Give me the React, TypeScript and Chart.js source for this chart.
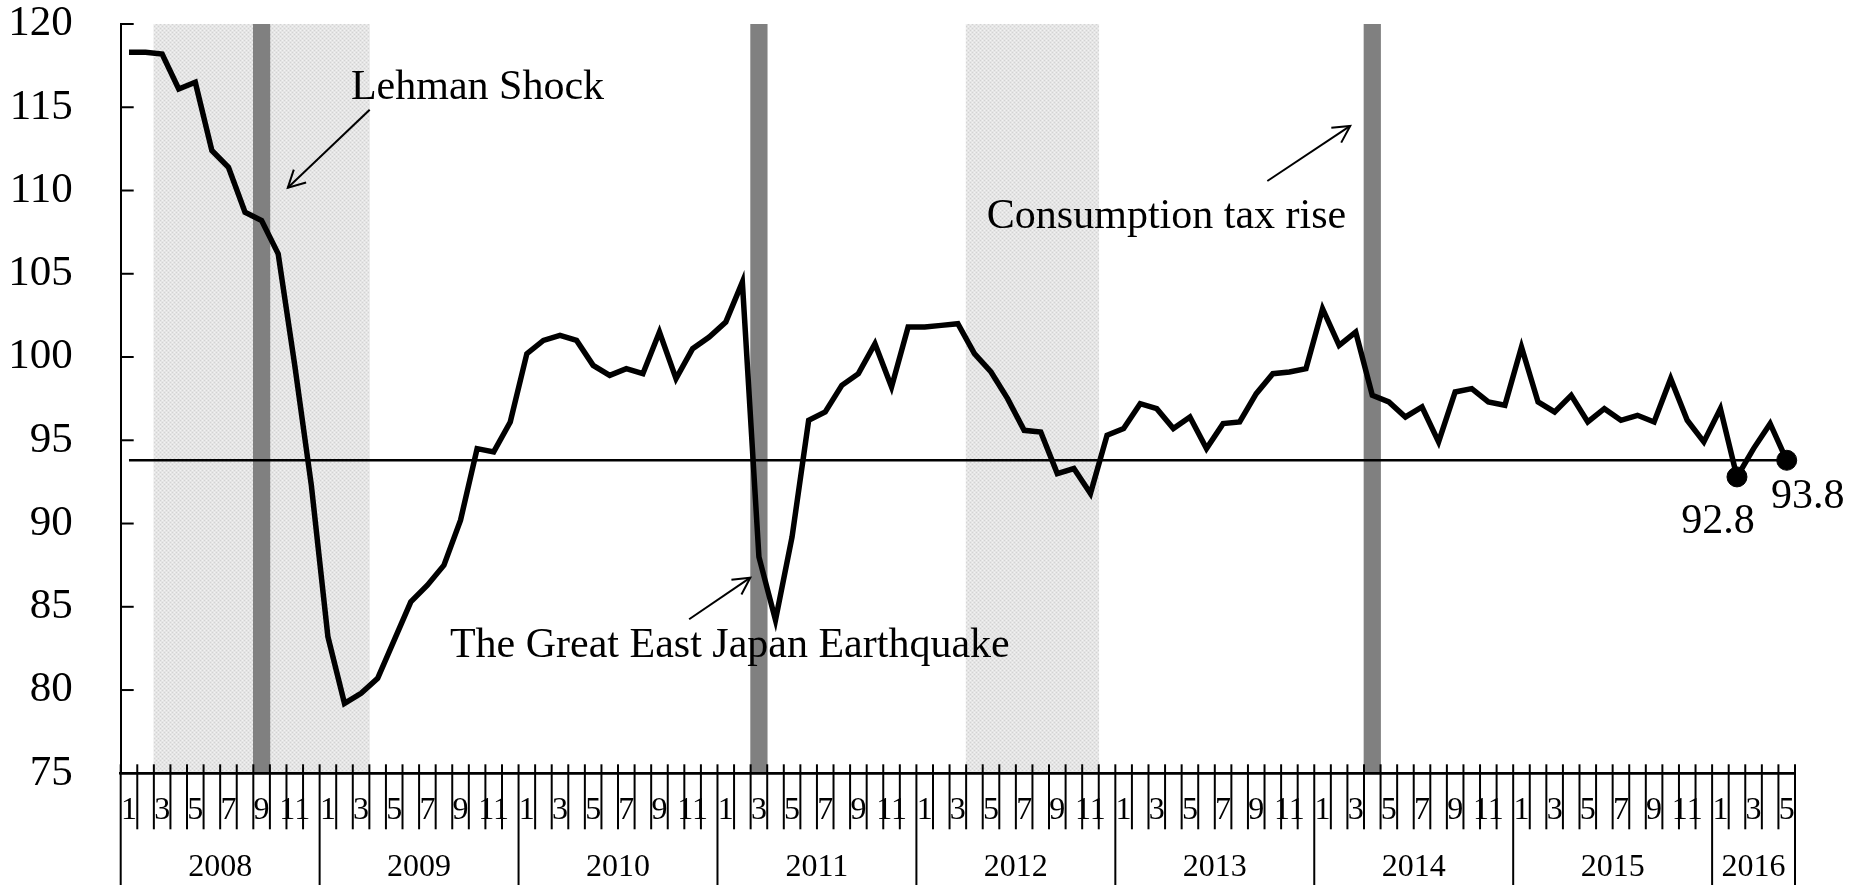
import React, { useEffect, useRef } from "react";
import { Chart, registerables } from "chart.js";

Chart.register(...registerables);

// ---------- data ----------
const years = ["2008", "2009", "2010", "2011", "2012", "2013", "2014", "2015", "2016"];
const monthsInLastYear = 5;

const months: string[] = [];
years.forEach((yr, yi) => {
  const n = yi === years.length - 1 ? monthsInLastYear : 12;
  for (let m = 1; m <= n; m++) months.push(`${yr}-${m < 10 ? "0" + m : m}`);
});

const indexValues = [
  118.3, 118.3, 118.2, 116.1, 116.5, 112.4, 111.4, 108.7, 108.2, 106.2, 99.5, 92.3, // 2008
  83.2, 79.2, 79.8, 80.7, 83.0, 85.3, 86.3, 87.5, 90.2, 94.5, 94.3, 96.1, // 2009
  100.2, 101.0, 101.3, 101.0, 99.5, 98.9, 99.3, 99.0, 101.5, 98.7, 100.5, 101.2, // 2010
  102.1, 104.5, 88.0, 84.2, 89.2, 96.2, 96.7, 98.3, 99.0, 100.8, 98.2, 101.8, // 2011
  101.8, 101.9, 102.0, 100.2, 99.1, 97.5, 95.6, 95.5, 93.0, 93.3, 91.8, 95.3, // 2012
  95.7, 97.2, 96.9, 95.7, 96.4, 94.5, 96.0, 96.1, 97.8, 99.0, 99.1, 99.3, // 2013
  102.9, 100.7, 101.5, 97.7, 97.3, 96.4, 97.0, 94.9, 97.9, 98.1, 97.3, 97.1, // 2014
  100.6, 97.3, 96.7, 97.7, 96.1, 96.9, 96.2, 96.5, 96.1, 98.7, 96.2, 94.9, // 2015
  96.9, 92.8, 94.5, 96.0, 93.8, // 2016
];

const referenceLevel = 93.8;
const highlightedMonths = ["2016-02", "2016-05"];
const recessionPeriods = [
  ["2008-03", "2009-03"],
  ["2012-04", "2012-11"],
];
const eventMonths = ["2008-09", "2011-03", "2014-04"];
const yMin = 75;
const yMax = 120;
const yStep = 5;

// annotation texts, anchored in data units (month index, value)
const annotations = [
  { text: "Lehman Shock", tx: 13.39, ty: 115.48, from: [14.52, 114.85], to: [9.58, 110.17] },
  { text: "The Great East Japan Earthquake", tx: 19.36, ty: 81.97, from: [33.79, 84.25], to: [37.48, 86.75] },
  { text: "Consumption tax rise", tx: 51.75, ty: 107.72, from: [68.67, 110.57], to: [73.67, 113.88] },
];

const FONT = "'Liberation Serif', 'Times New Roman', serif";

function idx(key: string) {
  return months.indexOf(key);
}

function makePattern(ctx: CanvasRenderingContext2D) {
  const c = document.createElement("canvas");
  c.width = 4;
  c.height = 4;
  const g = c.getContext("2d")!;
  g.fillStyle = "#e5e5e5";
  g.fillRect(0, 0, 4, 4);
  g.fillStyle = "#d3d3d3";
  g.fillRect(0, 0, 1, 1);
  g.fillRect(2, 2, 1, 1);
  g.fillStyle = "#f2f2f2";
  g.fillRect(2, 0, 1, 1);
  g.fillRect(0, 2, 1, 1);
  return ctx.createPattern(c, "repeat") as CanvasPattern;
}

function line(ctx: CanvasRenderingContext2D, x1: number, y1: number, x2: number, y2: number) {
  ctx.beginPath();
  ctx.moveTo(x1, y1);
  ctx.lineTo(x2, y2);
  ctx.stroke();
}

const overlayPlugin = {
  id: "overlay",
  afterDraw(chart: any) {
    const { ctx, chartArea: ca, scales } = chart;
    const xs = scales.x;
    const ys = scales.y;
    const cw = xs.getPixelForValue(1) - xs.getPixelForValue(0);
    const x0 = xs.getPixelForValue(0) - cw / 2;
    ctx.save();
    ctx.strokeStyle = "#000";
    ctx.fillStyle = "#000";
    ctx.lineCap = "butt";

    // x axis line
    ctx.lineWidth = 2.5;
    line(ctx, ca.left, ca.bottom, ca.right, ca.bottom);

    // inward y ticks
    ctx.lineWidth = 2;
    ys.ticks.forEach((t: any) => {
      if (t.value === yMin) return;
      const py = ys.getPixelForValue(t.value);
      line(ctx, ca.left, py, ca.left + 13, py);
    });

    // month ticks and year separators
    for (let i = 0; i <= months.length; i++) {
      const px = x0 + i * cw;
      const isYear = i === months.length || months[i].endsWith("-01");
      line(ctx, px, ca.bottom - 9, px, isYear ? chart.height : ca.bottom + 56);
    }

    // year labels
    ctx.font = `32px ${FONT}`;
    ctx.textAlign = "center";
    ctx.textBaseline = "middle";
    years.forEach((yr) => {
      const s = months.findIndex((m) => m.startsWith(yr));
      let e = s;
      while (e < months.length && months[e].startsWith(yr)) e++;
      ctx.fillText(yr, x0 + ((s + e) / 2) * cw, 867.5);
    });

    // annotations
    ctx.font = `42px ${FONT}`;
    ctx.textAlign = "left";
    ctx.textBaseline = "alphabetic";
    annotations.forEach((a) => {
      ctx.fillText(a.text, xs.getPixelForValue(a.tx), ys.getPixelForValue(a.ty));
      const fx = xs.getPixelForValue(a.from[0]);
      const fy = ys.getPixelForValue(a.from[1]);
      const tx = xs.getPixelForValue(a.to[0]);
      const ty = ys.getPixelForValue(a.to[1]);
      ctx.lineWidth = 2;
      line(ctx, fx, fy, tx, ty);
      const ang = Math.atan2(fy - ty, fx - tx);
      const len = 19;
      const half = (28 * Math.PI) / 180;
      ctx.beginPath();
      ctx.moveTo(tx + len * Math.cos(ang - half), ty + len * Math.sin(ang - half));
      ctx.lineTo(tx, ty);
      ctx.lineTo(tx + len * Math.cos(ang + half), ty + len * Math.sin(ang + half));
      ctx.stroke();
    });

    // value labels for highlighted points
    const offsets = [
      [-19, 56],
      [21, 48],
    ];
    ctx.textAlign = "center";
    highlightedMonths.forEach((k, j) => {
      const i = idx(k);
      const v = indexValues[i];
      const px = xs.getPixelForValue(i);
      const py = ys.getPixelForValue(v);
      ctx.fillText(v.toFixed(1), px + offsets[j][0], py + offsets[j][1]);
    });

    ctx.restore();
  },
};

export default function App() {
  const ref = useRef<HTMLCanvasElement | null>(null);

  useEffect(() => {
    document.body.style.margin = "0";
    const canvas = ref.current!;
    const ctx = canvas.getContext("2d")!;
    const pattern = makePattern(ctx);

    const shaded = months.map((m) =>
      recessionPeriods.some(([a, b]) => m >= a && m <= b) ? yMax : null
    );
    const events = months.map((m) => (eventMonths.includes(m) ? yMax : null));
    const pointRadius = months.map((m) => (highlightedMonths.includes(m) ? 10 : 0));

    const chart = new Chart(ctx, {
      type: "line",
      data: {
        labels: months,
        datasets: [
          {
            type: "line",
            data: indexValues,
            borderColor: "#000",
            backgroundColor: "#000",
            borderWidth: 5.5,
            pointRadius,
            pointBackgroundColor: "#000",
            pointBorderColor: "#000",
            pointBorderWidth: 1,
            tension: 0,
            clip: false as any,
            order: 0,
          },
          {
            type: "line",
            data: months.map(() => referenceLevel),
            borderColor: "#000",
            borderWidth: 2.5,
            pointRadius: 0,
            order: 1,
          },
          {
            type: "bar",
            data: events,
            backgroundColor: "#808080",
            borderWidth: 0,
            categoryPercentage: 1,
            barPercentage: 1,
            grouped: false,
            order: 2,
          } as any,
          {
            type: "bar",
            data: shaded,
            backgroundColor: pattern,
            borderWidth: 0,
            categoryPercentage: 1,
            barPercentage: 1,
            grouped: false,
            order: 3,
          } as any,
        ],
      },
      options: {
        animation: false,
        responsive: false,
        devicePixelRatio: 1,
        layout: { padding: { top: 24, right: 66, left: 0, bottom: 0 } },
        plugins: { legend: { display: false }, tooltip: { enabled: false } },
        scales: {
          x: {
            type: "category",
            offset: true,
            grid: { display: false, drawTicks: false },
            border: { display: true, color: "#000", width: 2.5 },
            ticks: {
              autoSkip: false,
              maxRotation: 0,
              minRotation: 0,
              padding: 18.5,
              color: "#000",
              font: { family: FONT, size: 32 },
              callback: (_v: any, i: number) => {
                const m = parseInt(months[i].slice(5), 10);
                return m % 2 === 1 ? String(m) : "";
              },
            },
            afterFit: (s: any) => {
              s.height = 111.7;
              s.paddingLeft = 0;
              s.paddingRight = 0;
            },
          },
          y: {
            min: yMin,
            max: yMax,
            grid: { display: false, drawTicks: false },
            border: { display: true, color: "#000", width: 2 },
            ticks: {
              stepSize: yStep,
              padding: 48,
              color: "#000",
              font: { family: FONT, size: 43, lineHeight: 1 },
            },
            afterFit: (s: any) => {
              s.width = 120.7;
              s.paddingTop = 0;
              s.paddingBottom = 0;
            },
          },
        },
      },
      plugins: [overlayPlugin],
    });

    return () => chart.destroy();
  }, []);

  return (
    <canvas
      ref={ref}
      width={1861}
      height={885}
      style={{ display: "block", position: "absolute", left: 0, top: 0 }}
    />
  );
}
